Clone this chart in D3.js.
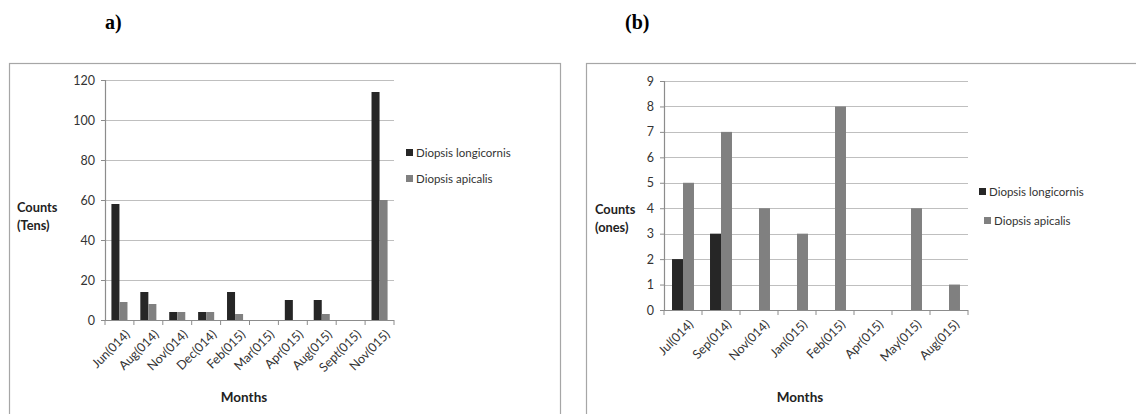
<!DOCTYPE html>
<html>
<head>
<meta charset="utf-8">
<script src="https://cdn.jsdelivr.net/npm/d3@7"></script>
<style>
  html, body { margin: 0; padding: 0; background: #fff; }
  svg { display: block; }
  .tick text { font-family: Lato, "Open Sans", sans-serif; }
</style>
</head>
<body>
<svg id="chart" width="1136" height="414"></svg>
<script>
// Panel (a): counts in tens
const monthsA = ["Jun(014)", "Aug(014)", "Nov(014)", "Dec(014)", "Feb(015)", "Mar(015)", "Apr(015)", "Aug(015)", "Sept(015)", "Nov(015)"];
const longicornisA = [58, 14, 4, 4, 14, 0, 10, 10, 0, 114];
const apicalisA = [9, 8, 4, 4, 3, 0, 0, 3, 0, 60];
const ticksA = [0, 20, 40, 60, 80, 100, 120];

// Panel (b): counts in ones
const monthsB = ["Jul(014)", "Sep(014)", "Nov(014)", "Jan(015)", "Feb(015)", "Apr(015)", "May(015)", "Aug(015)"];
const longicornisB = [2, 3, 0, 0, 0, 0, 0, 0];
const apicalisB = [5, 7, 4, 3, 8, 0, 4, 1];
const ticksB = [0, 1, 2, 3, 4, 5, 6, 7, 8, 9];

const seriesNames = ["Diopsis longicornis", "Diopsis apicalis"];
const seriesColors = ["#262626", "#808080"];

const FONT = "Lato, 'Open Sans', sans-serif";
const svg = d3.select("#chart");

function panel(cfg) {
  const g = svg.append("g");

  // frame around the panel
  g.append("rect")
    .attr("x", cfg.frame[0] + 0.5).attr("y", cfg.frame[1] + 0.5)
    .attr("width", cfg.frame[2]).attr("height", cfg.frame[3])
    .attr("fill", "none").attr("stroke", "#a6a6a6").attr("stroke-width", 1.2);

  // panel letter
  g.append("text")
    .attr("x", cfg.titlePos[0]).attr("y", cfg.titlePos[1])
    .attr("font-family", "'Liberation Serif', 'Times New Roman', serif")
    .attr("font-weight", "bold").attr("font-size", 20)
    .attr("fill", "#000")
    .text(cfg.title);

  const x = d3.scaleBand().domain(cfg.categories).range([cfg.left, cfg.right]);
  const y = d3.scaleLinear().domain([0, cfg.yMax]).range([cfg.bottom, cfg.top]);
  const inner = d3.scaleBand().domain([0, 1])
    .range([0, x.bandwidth()]).paddingOuter(cfg.outerPad).paddingInner(0);

  // horizontal gridlines
  g.append("g").selectAll("line").data(cfg.ticks.filter(t => t > 0)).join("line")
    .attr("x1", cfg.left).attr("x2", cfg.right)
    .attr("y1", d => Math.round(y(d)) + 0.5).attr("y2", d => Math.round(y(d)) + 0.5)
    .attr("stroke", "#bfbfbf").attr("stroke-width", 1.2);

  // bars
  const data = cfg.categories.map((c, i) => ({ c, v: [cfg.s1[i], cfg.s2[i]] }));
  const groups = g.append("g").selectAll("g").data(data).join("g")
    .attr("transform", d => `translate(${x(d.c)},0)`);
  groups.selectAll("rect").data(d => d.v.map((v, k) => ({ v, k }))).join("rect")
    .attr("x", d => inner(d.k))
    .attr("width", inner.bandwidth())
    .attr("y", d => y(d.v))
    .attr("height", d => y(0) - y(d.v))
    .attr("fill", d => seriesColors[d.k]);

  // y axis
  const yAxis = d3.axisLeft(y).tickValues(cfg.ticks).tickSize(4).tickPadding(6).tickFormat(d3.format("d"));
  const ya = g.append("g").attr("transform", `translate(${cfg.left},0)`).call(yAxis);
  ya.select(".domain").attr("stroke", "#8c8c8c").attr("stroke-width", 1.2);
  ya.selectAll(".tick line").attr("stroke", "#8c8c8c");
  ya.selectAll(".tick text").attr("font-size", 12.5).attr("fill", "#333");

  // x axis with category boundary ticks
  const xa = g.append("g").attr("transform", `translate(0,${cfg.bottom})`);
  xa.append("line").attr("x1", cfg.left).attr("x2", cfg.right)
    .attr("y1", 0.5).attr("y2", 0.5).attr("stroke", "#8c8c8c").attr("stroke-width", 1.2);
  const bounds = cfg.categories.map(c => x(c)).concat([cfg.right]);
  xa.selectAll("line.b").data(bounds).join("line").attr("class", "b")
    .attr("x1", d => d).attr("x2", d => d).attr("y1", 0).attr("y2", 5)
    .attr("stroke", "#8c8c8c");
  xa.selectAll("text").data(cfg.categories).join("text")
    .attr("transform", d => `translate(${x(d) + x.bandwidth() / 2 + 5},${9}) rotate(-45)`)
    .attr("text-anchor", "end")
    .attr("dy", "0.7em")
    .attr("font-family", FONT).attr("font-size", 12.5).attr("fill", "#333")
    .text(d => d);

  // axis titles
  g.append("text").attr("x", cfg.xTitle[0]).attr("y", cfg.xTitle[1])
    .attr("text-anchor", "middle").attr("font-family", FONT)
    .attr("font-weight", "bold").attr("font-size", 13.5).attr("fill", "#222")
    .text("Months");
  const yt = g.append("text").attr("x", cfg.yTitle[0]).attr("y", cfg.yTitle[1])
    .attr("font-family", FONT).attr("font-weight", "bold").attr("font-size", 12.8).attr("fill", "#222");
  yt.append("tspan").attr("x", cfg.yTitle[0]).text("Counts");
  yt.append("tspan").attr("x", cfg.yTitle[0]).attr("dy", 18).text(cfg.yUnit);

  // legend
  const lg = g.append("g").selectAll("g").data(seriesNames).join("g")
    .attr("transform", (d, i) => `translate(${cfg.legend[i][0]},${cfg.legend[i][1]})`);
  lg.append("rect").attr("x", 0).attr("y", -4).attr("width", 7).attr("height", 7)
    .attr("fill", (d, i) => seriesColors[i]);
  lg.append("text").attr("x", 10).attr("y", 0).attr("dy", "0.35em")
    .attr("font-family", FONT).attr("font-size", 11.5).attr("fill", "#333")
    .text(d => d);
}

panel({
  frame: [9, 63, 551, 360], title: "a)", titlePos: [105, 29],
  categories: monthsA, s1: longicornisA, s2: apicalisA, yMax: 120, ticks: ticksA,
  left: 105, right: 394, top: 80, bottom: 320, outerPad: 0.8,
  xTitle: [244, 402], yTitle: [17, 212], yUnit: "(Tens)",
  legend: [[406, 153], [406, 179]]
});

panel({
  frame: [586, 63, 560, 360], title: "(b)", titlePos: [625, 29],
  categories: monthsB, s1: longicornisB, s2: apicalisB, yMax: 9, ticks: ticksB,
  left: 664, right: 968, top: 81, bottom: 310, outerPad: 0.73,
  xTitle: [800, 402], yTitle: [595, 214], yUnit: "(ones)",
  legend: [[979, 192], [984, 221]]
});
</script>
</body>
</html>
